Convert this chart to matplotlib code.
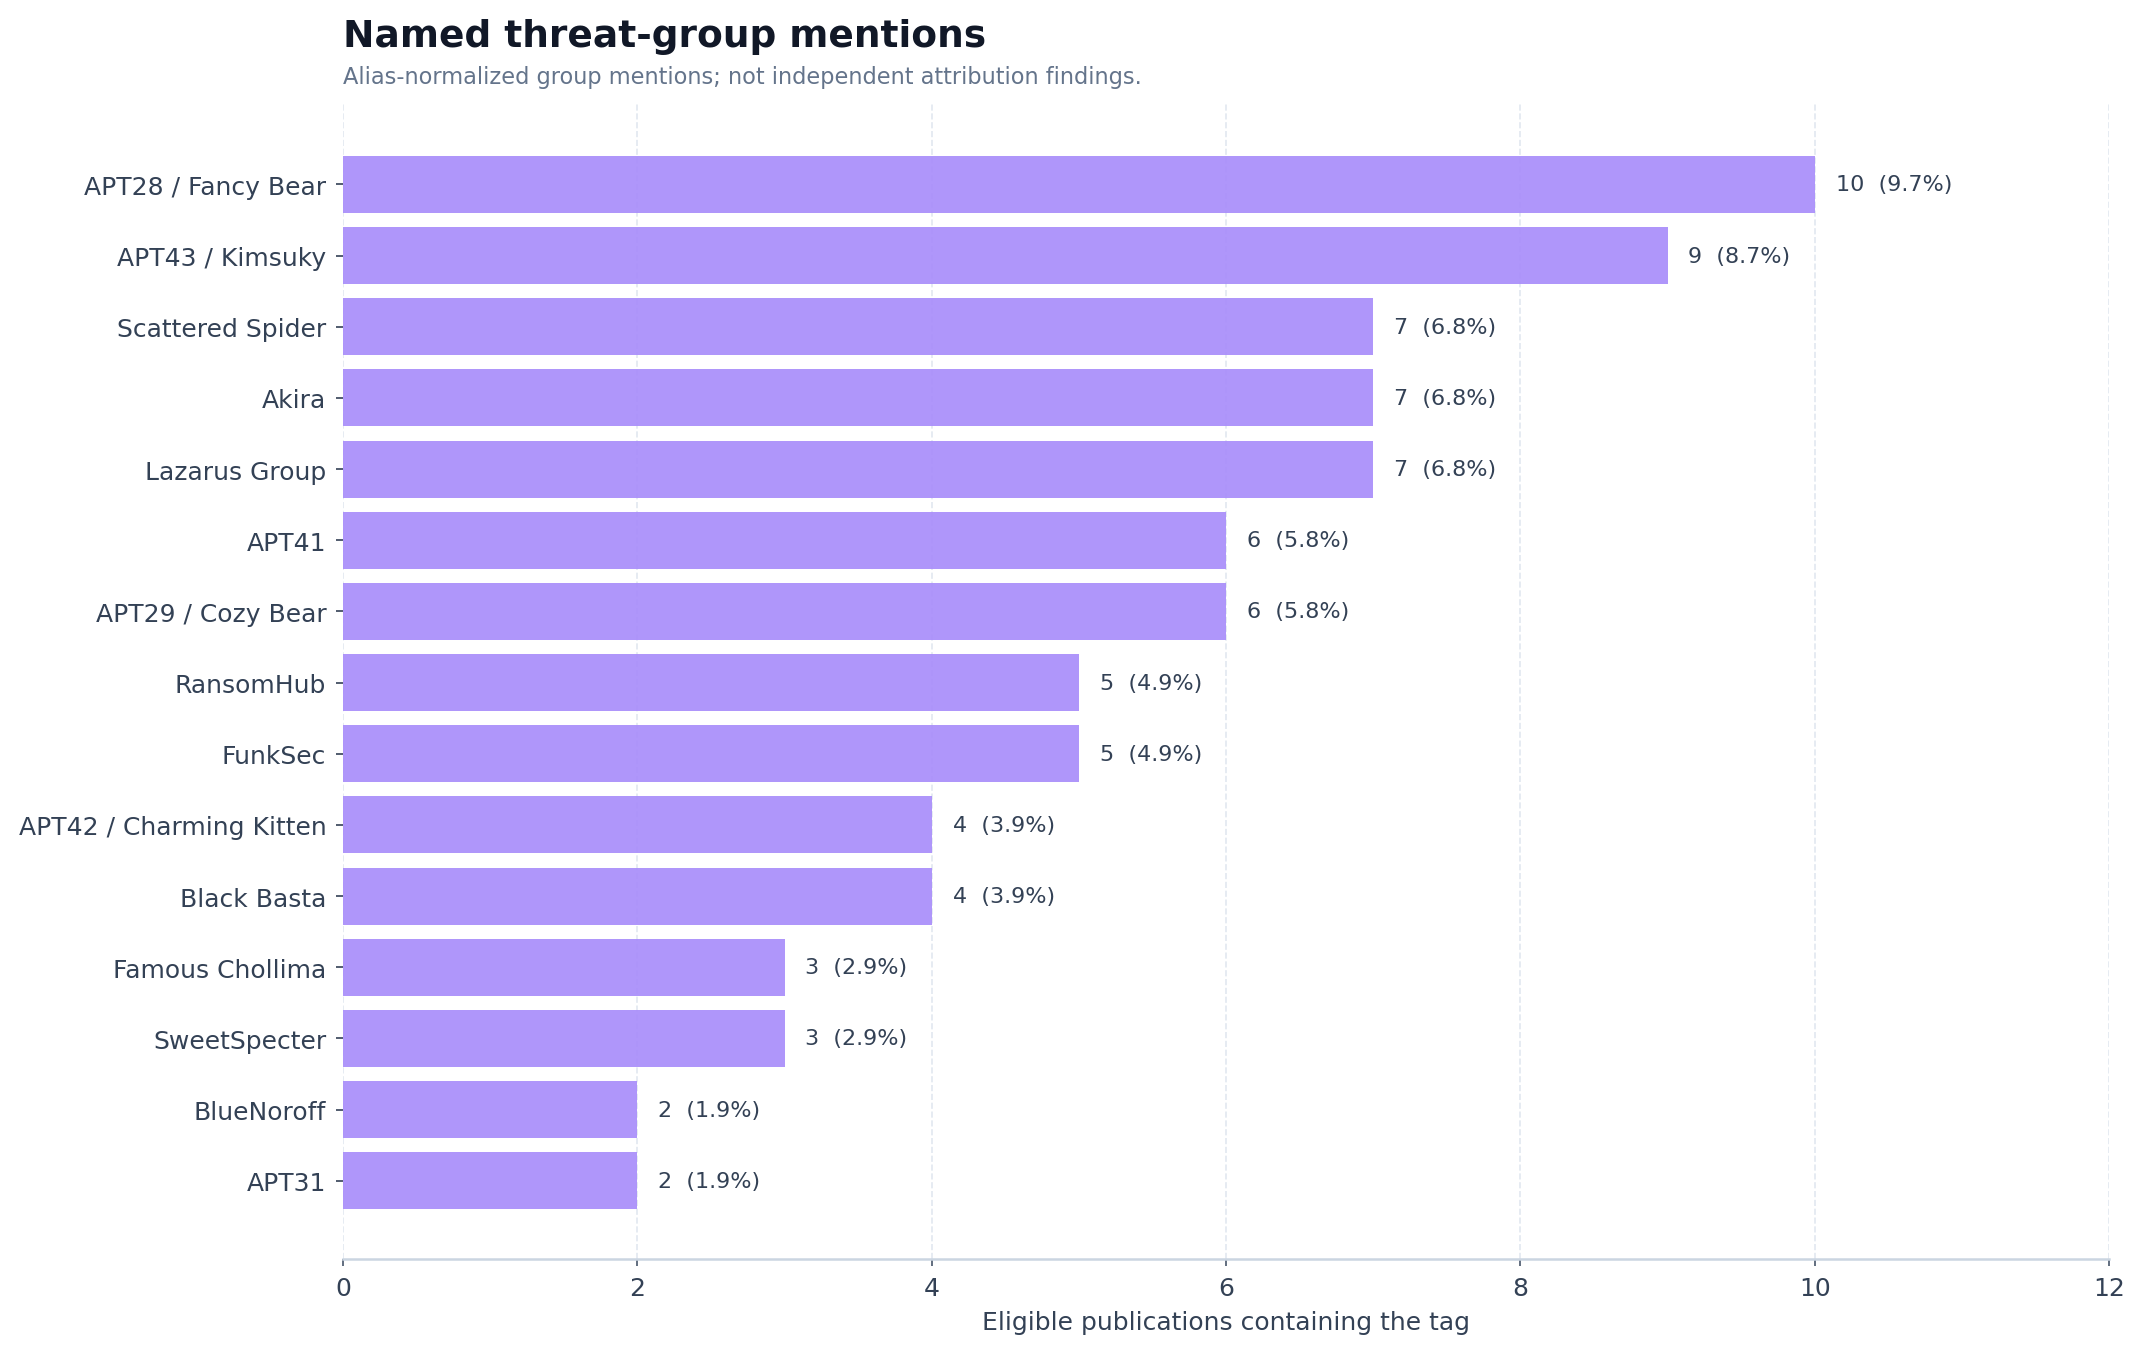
import matplotlib.pyplot as plt

groups = ["APT28 / Fancy Bear", "APT43 / Kimsuky", "Scattered Spider", "Akira",
          "Lazarus Group", "APT41", "APT29 / Cozy Bear", "RansomHub", "FunkSec",
          "APT42 / Charming Kitten", "Black Basta", "Famous Chollima",
          "SweetSpecter", "BlueNoroff", "APT31"]
counts = [10, 9, 7, 7, 7, 6, 6, 5, 5, 4, 4, 3, 3, 2, 2]
total_pubs = 103

plt.rcParams['font.family'] = ['DejaVu Sans']

fig = plt.figure(figsize=(14.287, 9.033), dpi=150)
ax = fig.add_axes([343 / 2143, 1 - 1260 / 1355, (2109 - 343) / 2143, (1260 - 105) / 1355])

ypos = list(range(len(groups)))
bars = ax.barh(ypos, counts, height=0.8, color='#a78bfa', alpha=0.9, zorder=2)
labels = [f"{c}  ({c / total_pubs * 100:.1f}%)" for c in counts]
ax.bar_label(bars, labels=labels, padding=10, fontsize=10.7, color='#334155')

ax.set_yticks(ypos)
ax.set_yticklabels(groups)
ax.set_ylim(15.1, -1.13)
ax.set_xlim(0, 12)
ax.set_xticks(range(0, 13, 2))

ax.grid(axis='x', color='#e2e8f0', linestyle='--', linewidth=0.8, zorder=0)
ax.set_axisbelow(True)
for s in ['top', 'right', 'left']:
    ax.spines[s].set_visible(False)
ax.spines['bottom'].set_color('#cbd5e1')
ax.spines['bottom'].set_linewidth(1.2)

ax.tick_params(axis='both', labelsize=12, colors='#334155', labelcolor='#334155')
ax.tick_params(axis='y', pad=4.5)
ax.tick_params(axis='x', colors='#475569', labelcolor='#334155', pad=4.5)
ax.set_xlabel("Eligible publications containing the tag", fontsize=12, color='#334155',
              labelpad=5)

ax.text(0, 1.05, "Named threat-group mentions", transform=ax.transAxes,
        fontsize=18, fontweight='bold', color='#111827', ha='left', va='baseline')
ax.text(0, 1.018, "Alias-normalized group mentions; not independent attribution findings.",
        transform=ax.transAxes, fontsize=10.8, color='#64748b', ha='left', va='baseline')

fig.savefig('out.png', dpi=150)
